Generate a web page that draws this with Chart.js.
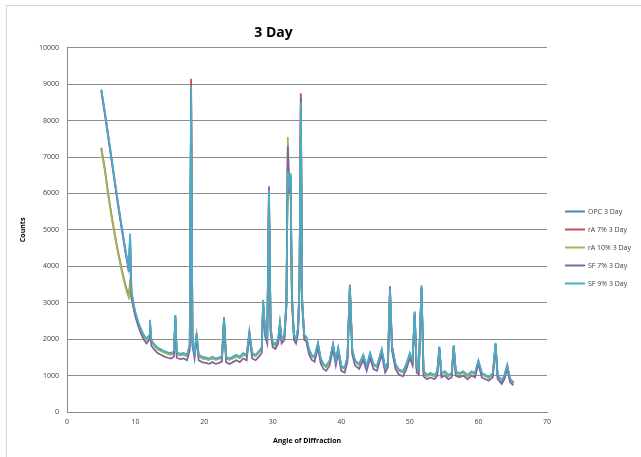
<!DOCTYPE html>
<html>
<head>
<meta charset="utf-8">
<script src="https://cdn.jsdelivr.net/npm/chart.js@4/dist/chart.umd.min.js"></script>
<style>
  html, body { margin: 0; padding: 0; background: #fff; }
  #wrap { width: 641px; height: 457px; }
</style>
</head>
<body>
<div id="wrap"><canvas id="xrdChart" width="641" height="457"></canvas></div>
<script>
// ===========================
// Data
// ===========================
const chartTitle = "3 Day";
const seriesLabels = ["OPC 3 Day", "rA 7% 3 Day", "rA 10% 3 Day", "SF 7% 3 Day", "SF 9% 3 Day"];
const seriesColors = ["#4F81BD", "#C0504D", "#9BBB59", "#8064A2", "#4BACC6"];
const xTickValues = [0, 10, 20, 30, 40, 50, 60, 70];
const yTickValues = [0, 1000, 2000, 3000, 4000, 5000, 6000, 7000, 8000, 9000, 10000];

// angle of diffraction (2θ)
const angles = [
  5.0, 5.5, 6.0, 6.5, 7.0, 7.5, 8.0, 8.5, 8.8, 9.0,
  9.2, 9.4, 9.7, 10.0, 10.4, 10.8, 11.2, 11.6, 12.0, 12.1,
  12.3, 12.7, 13.2, 13.7, 14.2, 14.7, 15.2, 15.6, 15.8, 16.0,
  16.5, 17.0, 17.5, 17.9, 18.1, 18.3, 18.6, 18.9, 19.2, 19.7,
  20.2, 20.7, 21.2, 21.7, 22.2, 22.6, 22.9, 23.2, 23.7, 24.2,
  24.7, 25.2, 25.7, 26.2, 26.6, 27.0, 27.5, 28.0, 28.4, 28.6,
  28.9, 29.2, 29.45, 29.7, 30.0, 30.4, 30.8, 31.05, 31.3, 31.7,
  32.0, 32.2, 32.4, 32.6, 32.8, 33.1, 33.4, 33.7, 33.9, 34.1,
  34.3, 34.6, 34.9, 35.3, 35.7, 36.1, 36.6, 37.0, 37.4, 37.8,
  38.3, 38.8, 39.2, 39.55, 40.0, 40.5, 40.9, 41.25, 41.6, 42.0,
  42.6, 43.2, 43.7, 44.2, 44.7, 45.2, 45.9, 46.4, 46.8, 47.1,
  47.4, 47.9, 48.4, 49.0, 49.5, 50.0, 50.4, 50.7, 51.0, 51.3,
  51.7, 52.0, 52.5, 53.0, 53.6, 54.0, 54.3, 54.6, 55.1, 55.6,
  56.1, 56.4, 56.7, 57.2, 57.8, 58.4, 59.0, 59.5, 60.0, 60.5,
  61.0, 61.5, 62.1, 62.5, 62.8, 63.4, 63.8, 64.2, 64.6, 65.1
];

const opc = [
  8850, 8250, 7600, 6950, 6300, 5650, 5050, 4450, 4150, 3900,
  4850, 3300, 2950, 2700, 2450, 2250, 2100, 2000, 2100, 2500,
  1950, 1850, 1750, 1700, 1650, 1620, 1600, 1650, 2650, 1620,
  1580, 1600, 1550, 1800, 8800, 1900, 1600, 2150, 1550, 1500,
  1480, 1450, 1500, 1450, 1480, 1520, 2600, 1500, 1450, 1500,
  1550, 1500, 1600, 1550, 2200, 1600, 1550, 1650, 1750, 3050,
  2200, 2000, 6150, 2300, 1900, 1850, 2000, 2450, 2000, 2100,
  3000, 6900, 6200, 6500, 3200, 2100, 2000, 2300, 3500, 8400,
  3000, 2100, 2050, 1700, 1550, 1500, 1880, 1450, 1300, 1250,
  1400, 1850, 1400, 1750, 1250, 1200, 1500, 3450, 1700, 1400,
  1300, 1550, 1250, 1600, 1300, 1250, 1700, 1200, 1350, 3400,
  1800, 1300, 1150, 1100, 1300, 1600, 1400, 2750, 1200, 1150,
  3450, 1100, 1000, 1050, 1000, 1100, 1780, 1050, 1100, 1000,
  1050, 1820, 1100, 1050, 1100, 1000, 1100, 1050, 1400, 1050,
  1000, 950, 1050, 1880, 1000, 850, 1000, 1280, 900, 800
];

const ra7 = [
  7250, 6700, 6000, 5400, 4850, 4350, 3900, 3500, 3300, 3200,
  3550, 3150, 2900, 2650, 2400, 2250, 2080, 1980, 2050, 2450,
  1950, 1830, 1730, 1680, 1640, 1600, 1580, 1640, 2600, 1600,
  1560, 1580, 1540, 1850, 9150, 1950, 1580, 2100, 1540, 1480,
  1460, 1440, 1480, 1440, 1470, 1500, 2550, 1480, 1440, 1480,
  1530, 1490, 1580, 1540, 2150, 1580, 1540, 1640, 1740, 2950,
  2150, 1980, 5900, 2250, 1880, 1830, 1980, 2400, 1980, 2080,
  2950, 7100, 6000, 6450, 3150, 2080, 1980, 2280, 3600, 8750,
  3100, 2080, 2030, 1690, 1540, 1490, 1860, 1440, 1290, 1240,
  1390, 1830, 1390, 1730, 1240, 1190, 1490, 3500, 1680, 1390,
  1290, 1530, 1240, 1580, 1290, 1240, 1680, 1190, 1340, 3450,
  1780, 1290, 1140, 1090, 1290, 1580, 1390, 2700, 1190, 1140,
  3400, 1090, 990, 1040, 990, 1090, 1750, 1040, 1090, 990,
  1040, 1800, 1090, 1040, 1090, 990, 1090, 1040, 1380, 1040,
  990, 940, 1040, 1850, 990, 840, 990, 1260, 890, 790
];

const ra10 = [
  7200, 6650, 5950, 5350, 4800, 4300, 3850, 3450, 3250, 3150,
  3450, 3100, 2880, 2630, 2400, 2230, 2070, 1970, 2040, 2400,
  1940, 1820, 1720, 1670, 1630, 1590, 1570, 1630, 2550, 1590,
  1550, 1570, 1530, 1780, 8600, 1880, 1570, 2080, 1530, 1470,
  1450, 1430, 1470, 1430, 1460, 1490, 2500, 1470, 1430, 1470,
  1520, 1480, 1570, 1530, 2100, 1570, 1530, 1630, 1720, 2900,
  2100, 1960, 5700, 2200, 1860, 1810, 1960, 2350, 1960, 2060,
  3100, 7550, 6300, 6550, 3100, 2060, 1960, 2260, 3400, 8300,
  2950, 2060, 2010, 1680, 1530, 1480, 1840, 1430, 1280, 1230,
  1380, 1800, 1380, 1710, 1230, 1180, 1470, 3350, 1660, 1380,
  1280, 1510, 1230, 1560, 1280, 1230, 1660, 1180, 1330, 3300,
  1750, 1280, 1130, 1080, 1280, 1560, 1380, 2650, 1180, 1130,
  3300, 1080, 980, 1030, 980, 1080, 1730, 1030, 1080, 980,
  1030, 1780, 1080, 1030, 1080, 980, 1080, 1030, 1360, 1030,
  980, 930, 1030, 1820, 980, 830, 980, 1240, 880, 780
];

const sf7 = [
  8800, 8200, 7550, 6900, 6250, 5600, 5000, 4400, 4100, 3850,
  4700, 3200, 2850, 2600, 2350, 2150, 1980, 1880, 1980, 2400,
  1820, 1720, 1620, 1570, 1520, 1490, 1470, 1520, 2550, 1490,
  1450, 1470, 1420, 1700, 8700, 1800, 1470, 2050, 1420, 1370,
  1350, 1320, 1370, 1320, 1350, 1390, 2500, 1370, 1320, 1370,
  1420, 1370, 1470, 1420, 2100, 1470, 1420, 1520, 1620, 2950,
  2080, 1880, 6200, 2180, 1780, 1730, 1880, 2350, 1880, 1980,
  2900, 7300, 6100, 6450, 3050, 1980, 1880, 2180, 3400, 8650,
  2900, 1980, 1930, 1580, 1430, 1380, 1760, 1330, 1180, 1130,
  1280, 1730, 1280, 1630, 1130, 1080, 1380, 3400, 1580, 1280,
  1180, 1430, 1130, 1480, 1180, 1130, 1580, 1080, 1230, 3300,
  1680, 1180, 1030, 980, 1180, 1480, 1280, 2700, 1080, 1030,
  3400, 980, 900, 950, 900, 1000, 1700, 950, 1000, 900,
  950, 1750, 1000, 950, 1000, 900, 1000, 950, 1320, 950,
  900, 860, 950, 1850, 900, 770, 900, 1200, 820, 730
];

const sf9 = [
  8850, 8280, 7620, 6980, 6320, 5680, 5080, 4480, 4180, 3950,
  4900, 3350, 2980, 2720, 2470, 2270, 2120, 2020, 2120, 2530,
  1980, 1870, 1770, 1720, 1670, 1640, 1620, 1670, 2660, 1640,
  1600, 1620, 1570, 1820, 8950, 1920, 1620, 2170, 1570, 1520,
  1500, 1470, 1520, 1470, 1500, 1540, 2610, 1520, 1470, 1520,
  1570, 1520, 1620, 1570, 2210, 1620, 1570, 1670, 1770, 3080,
  2220, 2020, 6100, 2320, 1920, 1870, 2020, 2460, 2020, 2120,
  3020, 6600, 6250, 6550, 3220, 2120, 2020, 2320, 3550, 8500,
  3020, 2120, 2070, 1720, 1570, 1520, 1900, 1470, 1320, 1270,
  1420, 1870, 1420, 1770, 1270, 1220, 1520, 3480, 1720, 1420,
  1320, 1570, 1270, 1620, 1320, 1270, 1720, 1220, 1370, 3380,
  1820, 1320, 1170, 1120, 1320, 1620, 1420, 2760, 1220, 1170,
  3480, 1120, 1020, 1070, 1020, 1120, 1800, 1070, 1120, 1020,
  1070, 1840, 1120, 1070, 1120, 1020, 1120, 1070, 1420, 1070,
  1020, 970, 1070, 1900, 1020, 870, 1020, 1300, 920, 820
];

const seriesValues = [opc, ra7, ra10, sf7, sf9];

// ===========================
// Helpers
// ===========================
function toPoints(values) {
  if (values.length !== angles.length) console.warn("length mismatch", values.length, angles.length);
  return values.map((v, i) => ({ x: angles[i], y: v }));
}

const FONT = "'Open Sans', 'Liberation Sans', sans-serif";

// white background + thin frame on the left/top
const frame = {
  id: "frame",
  beforeDraw(chart) {
    const ctx = chart.ctx;
    ctx.save();
    ctx.fillStyle = "#fff";
    ctx.fillRect(0, 0, chart.width, chart.height);
    ctx.strokeStyle = "#d4d4d4";
    ctx.lineWidth = 1;
    ctx.beginPath();
    ctx.moveTo(6.5, chart.height);
    ctx.lineTo(6.5, 5.5);
    ctx.lineTo(chart.width, 5.5);
    ctx.stroke();
    ctx.restore();
  }
};

// legend drawn at the spot used by the original
const sideLegend = {
  id: "sideLegend",
  afterDraw(chart) {
    const ctx = chart.ctx;
    ctx.save();
    ctx.font = "7px " + FONT;
    ctx.textBaseline = "middle";
    chart.data.datasets.forEach((ds, i) => {
      const y = 211.5 + i * 18;
      ctx.strokeStyle = ds.borderColor;
      ctx.lineWidth = 2;
      ctx.beginPath();
      ctx.moveTo(565, y);
      ctx.lineTo(585, y);
      ctx.stroke();
      ctx.fillStyle = "#404040";
      ctx.fillText(ds.label, 588, y);
    });
    ctx.restore();
  }
};

// ===========================
// Chart
// ===========================
const ctx = document.getElementById("xrdChart").getContext("2d");
new Chart(ctx, {
  type: "line",
  data: {
    datasets: seriesLabels.map((label, i) => ({
      label: label,
      data: toPoints(seriesValues[i]),
      borderColor: seriesColors[i],
      borderWidth: 1.75,
      pointRadius: 0,
      tension: 0,
      fill: false,
      order: seriesLabels.length - 1 - i   // later series drawn on top, like the original
    }))
  },
  options: {
    responsive: false,
    animation: false,
    layout: { padding: { top: 5, right: 94, bottom: 0, left: 0 } },
    plugins: {
      legend: { display: false },
      tooltip: { enabled: false },
      title: {
        display: true,
        text: chartTitle,
        color: "#000",
        font: { family: FONT, size: 14, weight: "bold" },
        padding: { top: 20, bottom: 6 }
      }
    },
    scales: {
      x: {
        type: "linear",
        min: 0,
        max: 70,
        afterBuildTicks: s => { s.ticks = xTickValues.map(v => ({ value: v })); },
        afterFit: s => { s.height = 45; },
        grid: { display: false, drawTicks: false },
        border: { color: "#8c8c8c", width: 1 },
        ticks: { color: "#404040", font: { family: FONT, size: 7 }, padding: 6, maxRotation: 0 },
        title: {
          display: true,
          text: "Angle of Diffraction",
          color: "#000",
          font: { family: FONT, size: 7, weight: "bold" },
          padding: { top: 0, bottom: 12 }
        }
      },
      y: {
        min: 0,
        max: 10000,
        afterBuildTicks: s => { s.ticks = yTickValues.map(v => ({ value: v })); },
        afterFit: s => { s.width = 67; },
        grid: { color: "#8c8c8c", lineWidth: 1, drawTicks: false },
        border: { color: "#8c8c8c", width: 1 },
        ticks: {
          color: "#404040",
          font: { family: FONT, size: 7 },
          padding: 8,
          callback: v => String(v)
        },
        title: {
          display: true,
          text: "Counts",
          color: "#000",
          font: { family: FONT, size: 7, weight: "bold" },
          padding: { top: 19, bottom: 0 }
        }
      }
    }
  },
  plugins: [frame, sideLegend]
});
</script>
</body>
</html>
